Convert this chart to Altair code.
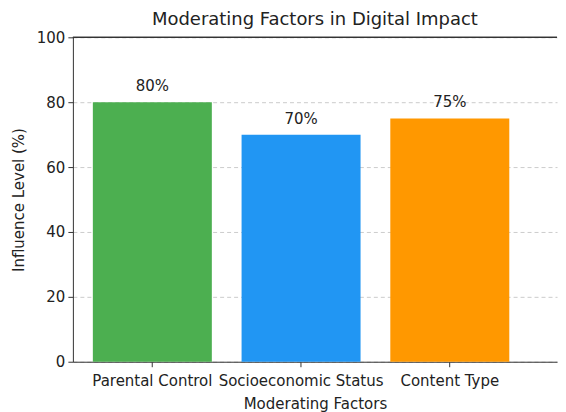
import altair as alt
import pandas as pd

categories = ["Parental Control", "Socioeconomic Status", "Content Type"]
values = [80, 70, 75]
labels = ["80%", "70%", "75%"]
colors = ["#4CAF50", "#2196F3", "#FF9800"]

df = pd.DataFrame({"factor": categories, "value": values, "label": labels})

FONT = "DejaVu Sans"
AX = "#333333"
FS = 15

x = alt.X(
    "factor:N",
    sort=categories,
    title="Moderating Factors",
    scale=alt.Scale(paddingInner=0.2, paddingOuter=0.2275, align=0.295),
    axis=alt.Axis(
        labelAngle=0, labelFontSize=FS, titleFontSize=FS, labelFont=FONT, titleFont=FONT,
        labelColor="#222222", titleColor="#222222", titleFontWeight="normal",
        domainColor=AX, tickColor=AX, tickSize=5, labelPadding=7, titlePadding=8,
    ),
)
y = alt.Y(
    "value:Q",
    title="Influence Level (%)",
    scale=alt.Scale(domain=[0, 100], nice=False),
    axis=alt.Axis(
        values=[0, 20, 40, 60, 80, 100], labelFontSize=FS, titleFontSize=FS,
        labelFont=FONT, titleFont=FONT, labelColor="#222222", titleColor="#222222",
        titleFontWeight="normal", domainColor=AX, tickColor=AX, tickSize=5,
        labelPadding=3, titlePadding=10, grid=True, gridDash=[4, 3], gridColor="#cccccc",
    ),
)

bars = alt.Chart(df).mark_bar().encode(
    x=x,
    y=y,
    color=alt.Color("factor:N", sort=categories,
                    scale=alt.Scale(domain=categories, range=colors), legend=None),
)
text = alt.Chart(df).mark_text(dy=-11, baseline="alphabetic", fontSize=FS, font=FONT,
                               color="#222222").encode(
    x=alt.X("factor:N", sort=categories), y="value:Q", text="label:N"
)
top = alt.Chart(df).mark_rule(color=AX, strokeWidth=1).encode(y=alt.datum(100))

chart = alt.layer(bars, text, top).properties(
    width=485,
    height=325,
    padding={"left": 3, "top": 3, "right": 0, "bottom": 0},
    title=alt.TitleParams("Moderating Factors in Digital Impact", fontSize=18, font=FONT,
                          fontWeight="normal", color="#222222", offset=4, dy=3),
).configure_view(stroke=None)

chart.save("out.html", embed_options={"renderer": "svg", "actions": False})
